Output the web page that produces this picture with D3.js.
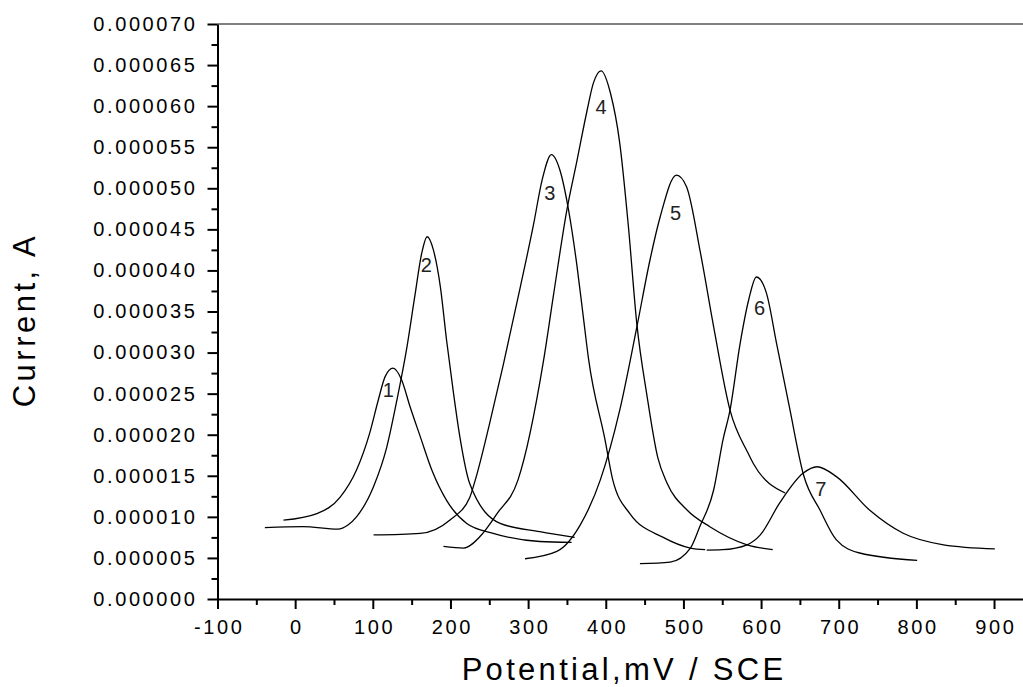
<!DOCTYPE html>
<html>
<head>
<meta charset="utf-8">
<script src="https://cdn.jsdelivr.net/npm/d3@7"></script>
<style>
    body { margin: 0; background: #fff; }
    svg { display: block; font-family: "Liberation Sans", Arial, sans-serif; }
    .tick text { fill: #000; }
</style>
</head>
<body>
<svg id="chart" width="1023" height="687"></svg>
<script>
const curve1V = [-15, 28, 58, 79, 96, 107, 116, 126, 137, 148, 161, 176, 195, 221, 255, 315, 356];
const curve1I = [9.6e-6, 10.4e-6, 12.4e-6, 15.7e-6, 20.2e-6, 24.2e-6, 27.1e-6, 28.1e-6, 26.7e-6, 23.4e-6, 19.8e-6, 15.7e-6, 12.0e-6, 9.2e-6, 8.0e-6, 7.0e-6, 6.9e-6];

const curve2V = [-39, 10, 55, 68, 79, 101, 118, 131, 144, 154, 163, 170, 178, 187, 195, 204, 212, 225, 264, 315, 360];
const curve2I = [8.7e-6, 8.8e-6, 8.5e-6, 9.0e-6, 10.0e-6, 13.7e-6, 18.5e-6, 24.2e-6, 30.7e-6, 36.8e-6, 42.1e-6, 44.1e-6, 42.5e-6, 38.0e-6, 31.5e-6, 25.0e-6, 19.8e-6, 14.0e-6, 9.2e-6, 8.2e-6, 7.5e-6];

const curve3V = [101, 161, 199, 225, 232, 250, 268, 290, 307, 318, 330, 341, 352, 363, 371, 378, 399, 409, 431, 474, 509, 528];
const curve3I = [7.8e-6, 8.0e-6, 9.6e-6, 12.4e-6, 14.5e-6, 21.2e-6, 28.5e-6, 38.0e-6, 45.6e-6, 51.0e-6, 54.1e-6, 52.2e-6, 47.4e-6, 40.5e-6, 34.4e-6, 29.1e-6, 19.4e-6, 14.5e-6, 10.4e-6, 7.5e-6, 6.2e-6, 6.0e-6];

const curve4V = [191, 217, 238, 260, 287, 320, 333, 350, 363, 376, 384, 394, 406, 418, 429, 440, 453, 467, 479, 505, 534, 582, 615];
const curve4I = [6.4e-6, 6.2e-6, 7.6e-6, 10.4e-6, 14.5e-6, 29.1e-6, 37.2e-6, 47.4e-6, 53.4e-6, 59.5e-6, 62.8e-6, 64.3e-6, 61.6e-6, 55.5e-6, 45.5e-6, 33.5e-6, 24.8e-6, 17.2e-6, 14.1e-6, 10.8e-6, 8.8e-6, 6.6e-6, 6.0e-6];

const curve5V = [296, 337, 367, 393, 418, 440, 457, 470, 491, 504, 522, 539, 560, 583, 590, 631];
const curve5I = [4.9e-6, 5.8e-6, 9.0e-6, 14.5e-6, 23.0e-6, 33.1e-6, 41.3e-6, 46.5e-6, 51.6e-6, 50.2e-6, 42.1e-6, 33.1e-6, 23.0e-6, 17.8e-6, 16.5e-6, 12.9e-6];

const curve6V = [444, 483, 509, 521, 539, 551, 560, 573, 584, 594, 607, 620, 636, 655, 676, 697, 727, 801];
const curve6I = [4.3e-6, 4.5e-6, 6.2e-6, 8.8e-6, 13.3e-6, 19.4e-6, 23.0e-6, 31.1e-6, 36.4e-6, 39.2e-6, 37.2e-6, 31.1e-6, 23.6e-6, 15.0e-6, 10.8e-6, 7.2e-6, 5.6e-6, 4.7e-6];

const curve7V = [530, 550, 582, 599, 624, 654, 672, 697, 740, 783, 835, 901];
const curve7I = [5.95e-6, 6.0e-6, 6.6e-6, 7.8e-6, 11.7e-6, 15.3e-6, 16.1e-6, 14.9e-6, 10.8e-6, 8.0e-6, 6.6e-6, 6.1e-6];

// Curve number labels, placed near each peak
const labelText = ['1', '2', '3', '4', '5', '6', '7'];
const labelV = [120, 169, 328, 394, 490, 598, 677];
const labelI = [25.4e-6, 40.7e-6, 49.4e-6, 59.9e-6, 47.0e-6, 35.4e-6, 13.4e-6];

// Axis ticks
const xTicks = [-100, 0, 100, 200, 300, 400, 500, 600, 700, 800, 900];
const xMinor = [-50, 50, 150, 250, 350, 450, 550, 650, 750, 850];
const yTicks = d3.range(0, 15).map(i => i * 5e-6);
const yMinor = d3.range(0, 14).map(i => i * 5e-6 + 2.5e-6);

const curves = [
    [curve1V, curve1I], [curve2V, curve2I], [curve3V, curve3I], [curve4V, curve4I],
    [curve5V, curve5I], [curve6V, curve6I], [curve7V, curve7I]
];

const svg = d3.select('#chart');

const x = d3.scaleLinear().domain([-100, 937.3]).range([217.5, 1023]);
const y = d3.scaleLinear().domain([0, 7e-5]).range([599, 24]);

// Top frame line (grey)
svg.append('line')
    .attr('x1', x(-100)).attr('x2', 1023)
    .attr('y1', y(7e-5)).attr('y2', y(7e-5))
    .attr('stroke', '#808080')
    .attr('stroke-width', 2);

// Minor ticks first, then the labelled axes on top
svg.append('g')
    .attr('transform', `translate(0,${y(0)})`)
    .call(d3.axisBottom(x).tickValues(xMinor).tickSize(6).tickFormat(''))
    .call(g => g.select('.domain').remove())
    .selectAll('line').attr('stroke-width', 2);

svg.append('g')
    .attr('transform', `translate(${x(-100)},0)`)
    .call(d3.axisLeft(y).tickValues(yMinor).tickSize(6).tickFormat(''))
    .call(g => g.select('.domain').remove())
    .selectAll('line').attr('stroke-width', 2);

const xAxis = svg.append('g')
    .attr('transform', `translate(0,${y(0)})`)
    .call(d3.axisBottom(x).tickValues(xTicks).tickSize(10).tickSizeOuter(0).tickPadding(11).tickFormat(d => String(d)));

const yAxis = svg.append('g')
    .attr('transform', `translate(${x(-100)},0)`)
    .call(d3.axisLeft(y).tickValues(yTicks).tickSize(10).tickSizeOuter(0).tickPadding(10).tickFormat(d3.format('.6f')));

[xAxis, yAxis].forEach(g => {
    g.select('.domain').attr('stroke-width', 2);
    g.selectAll('.tick line').attr('stroke-width', 2);
    g.selectAll('.tick text')
        .attr('font-size', 20)
        .attr('letter-spacing', 2.6);
});
xAxis.selectAll('.tick text').attr('dy', '0.71em').attr('dx', 1.3);

// Curves
const line = d3.line()
    .x(d => x(d[0]))
    .y(d => y(d[1]))
    .curve(d3.curveMonotoneX);

svg.append('g')
    .selectAll('path')
    .data(curves)
    .join('path')
    .attr('d', c => line(d3.zip(c[0], c[1])))
    .attr('fill', 'none')
    .attr('stroke', '#000')
    .attr('stroke-width', 1.3);

// Curve labels
svg.append('g')
    .selectAll('text')
    .data(labelText)
    .join('text')
    .attr('x', (d, i) => x(labelV[i]))
    .attr('y', (d, i) => y(labelI[i]))
    .attr('text-anchor', 'middle')
    .attr('dominant-baseline', 'central')
    .attr('font-size', 20)
    .attr('fill', '#222')
    .text(d => d);

// Axis titles
svg.append('text')
    .attr('x', 624)
    .attr('y', 680)
    .attr('text-anchor', 'middle')
    .attr('font-size', 31)
    .attr('letter-spacing', 3.3)
    .text('Potential,mV / SCE');

svg.append('text')
    .attr('transform', 'translate(35,320) rotate(-90)')
    .attr('text-anchor', 'middle')
    .attr('font-size', 31)
    .attr('letter-spacing', 3.5)
    .text('Current, A');
</script>
</body>
</html>
